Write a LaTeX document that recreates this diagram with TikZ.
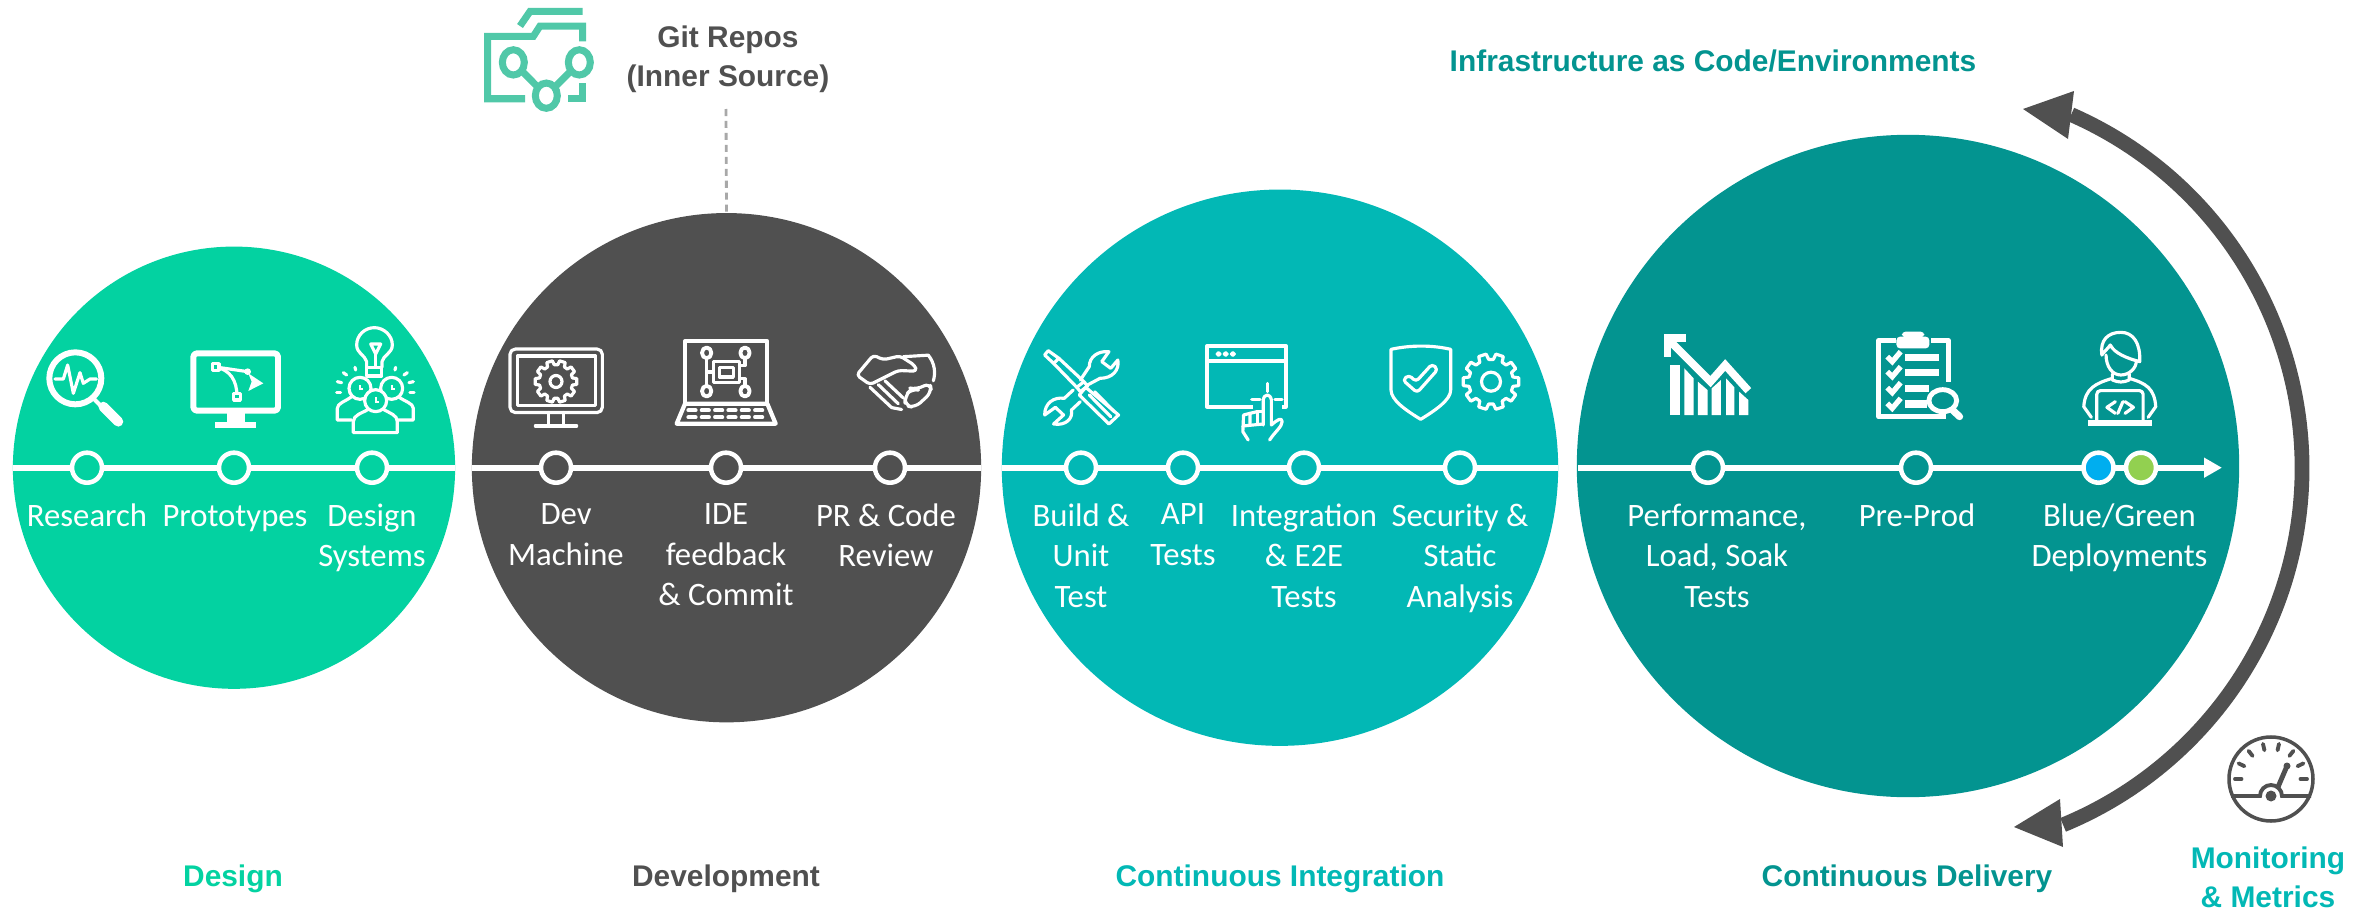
\documentclass[tikz,border=0pt]{standalone}
\usepackage{fontspec}
\setmainfont{Carlito}
\newfontfamily\titlefont{Liberation Sans}
\usetikzlibrary{arrows.meta}
\definecolor{designc}{HTML}{03D2A1}
\definecolor{devc}{HTML}{505050}
\definecolor{cic}{HTML}{02B8B5}
\definecolor{cdc}{HTML}{039490}
\definecolor{folderc}{HTML}{50C8A8}
\definecolor{bluec}{HTML}{00AEEF}
\definecolor{greenc}{HTML}{92D050}
\tikzset{
	phase/.style={circle, inner sep=0pt, outer sep=0pt},
	spine/.style={draw=white, line width=1.6pt},
	stop/.style={circle, draw=white, line width=1.3pt, inner sep=0pt, minimum size=.30cm},
	steptext/.style={text=white, align=center, anchor=north, inner sep=0pt, font=\fontsize{9.3}{11.5}\selectfont, execute at begin node=\strut},
	phasetitle/.style={font=\titlefont\bfseries\fontsize{8.5}{11}\selectfont, align=center, inner sep=0pt},
	iconline/.style={draw=white, line width=.9pt, line join=round, line cap=round},
	iconthick/.style={draw=white, line width=1.7pt, line join=round},
	foldline/.style={draw=folderc, line width=2pt},
	gaugeline/.style={draw=devc, line width=1pt},
	zonea/.style={shift={(0,280)}, scale=1/3},
	zoneb/.style={shift={(470,0)}, xscale=1/3, yscale=1/2.613},
	zonec/.style={shift={(1000,300)}, xscale=1/2.8, yscale=1/3},
	zoned/.style={shift={(1580,300)}, xscale=1/2.376, yscale=1/3}
}
\newcommand{\gearicon}[3]{%
	\begin{scope}[shift={#1}]
		\draw[iconline] (-8:#2) \foreach \a in {0,36,...,324} { -- (\a-8:#2) -- (\a+8:#2) -- (\a+12:.8*#2) -- (\a+24:.8*#2) } -- cycle;
		\draw[iconline] (0,0) circle[radius=#3];
	\end{scope}}
\begin{document}
\begin{tikzpicture}[x=.01cm, y=-.01cm, >=stealth]
	\useasboundingbox (0,0) rectangle (2377,909);
	% phases
	\node[phase, fill=designc, minimum size=4.42cm] (design) at (234,467.7) {};
	\node[phase, fill=devc, minimum size=5.09cm] (dev) at (726.5,467.7) {};
	\node[phase, fill=cic, minimum size=5.56cm] (ci) at (1280,467.7) {};
	\node[phase, fill=cdc, minimum size=6.62cm] (cd) at (1908,466) {};
	% spines
	\coordinate (cdend) at (2222,467.7);
	\coordinate (cdstart) at (1578,467.7);
	\draw[spine] (design.west) -- (design.east);
	\draw[spine] (dev.west) -- (dev.east);
	\draw[spine] (ci.west) -- (ci.east);
	\draw[spine, -{Triangle[length=.18cm, width=.19cm]}] (cdstart) -- (cdend);
	% stops
	\node[stop, fill=designc] (research) at (87,467.7) {};
	\node[stop, fill=designc] (proto) at (234,467.7) {};
	\node[stop, fill=designc] (system) at (372,467.7) {};
	\node[stop, fill=devc] (machine) at (556,467.7) {};
	\node[stop, fill=devc] (ide) at (726,467.7) {};
	\node[stop, fill=devc] (review) at (890,467.7) {};
	\node[stop, fill=cic] (unit) at (1081,467.7) {};
	\node[stop, fill=cic] (api) at (1183,467.7) {};
	\node[stop, fill=cic] (integ) at (1304,467.7) {};
	\node[stop, fill=cic] (secur) at (1460,467.7) {};
	\node[stop, fill=cdc] (perf) at (1708,467.7) {};
	\node[stop, fill=cdc] (preprod) at (1916,467.7) {};
	\node[stop, fill=bluec] (blue) at (2098.5,467.7) {};
	\node[stop, fill=greenc] (green) at (2141,467.7) {};
	% step texts
	\node[steptext] (researchtxt) at (87,497) {Research};
	\node[steptext] (prototxt) at (235,497) {Prototypes};
	\node[steptext] (systemtxt) at (372,503) {Design\\Systems};
	\node[steptext] (machinetxt) at (566,503) {Dev\\Machine};
	\node[steptext] (idetxt) at (726,503) {IDE\\feedback\\\& Commit};
	\node[steptext] (reviewtxt) at (886,503) {PR \& Code\\Review};
	\node[steptext] (unittxt) at (1081,503) {Build \&\\Unit\\Test};
	\node[steptext] (apitxt) at (1183,503) {API\\Tests};
	\node[steptext] (integtxt) at (1304,503) {Integration\\\& E2E\\Tests};
	\node[steptext] (securtxt) at (1460,503) {Security \&\\Static\\Analysis};
	\node[steptext] (perftxt) at (1717,503) {Performance,\\Load, Soak\\Tests};
	\node[steptext] (preprodtxt) at (1917,497) {Pre-Prod};
	\node[steptext] (bluetxt) at (2119.5,503) {Blue/Green\\Deployments};
	% phase titles
	\node[phasetitle, text=designc] (designtitle) at (233,879) {Design};
	\node[phasetitle, text=devc] (devtitle) at (726,879) {Development};
	\node[phasetitle, text=cic] (cititle) at (1280,879) {Continuous Integration};
	\node[phasetitle, text=cdc] (cdtitle) at (1907,879) {Continuous Delivery};
	\node[phasetitle, text=cdc] (infratitle) at (1713,61) {Infrastructure as Code/Environments};
	\node[phasetitle, text=cic] (monitortitle) at (2268,877) {Monitoring\\\& Metrics};
	\node[phasetitle, text=devc] (gittitle) at (728,59) {Git Repos\\(Inner Source)};
	% git link
	\coordinate (gitend) at (726,109);
	\draw[draw=devc!50, line width=.8pt, dash pattern=on 2pt off 1.4pt] (gitend) -- (dev.north);
	% folder icon
	\begin{scope}[zoneb]
		\draw[foldline] (150,68) -- (180,30) -- (338,30);
		\draw[foldline] (338,108) -- (338,68) -- (210,68) -- (190,95) -- (53,95) -- (53,258) -- (165,258);
		\draw[foldline] (295,258) -- (338,258) -- (338,218);
		\draw[foldline] (130,163) -- (229,250) -- (328,163);
		\draw[foldline, fill=white] (130,163) circle[radius=33];
		\draw[foldline, fill=white] (328,163) circle[radius=33];
		\draw[foldline, fill=white] (229,250) circle[radius=33];
	\end{scope}
	% flow arc
	\coordinate (flowc) at (1916,468);
	\draw[draw=devc, line width=4.2pt] (flowc) ++(-66.3:386) arc[start angle=-66.3, end angle=67.6, radius=386];
	\fill[devc] (2023,109) -- (2074,91) -- (2068,139) -- cycle;
	\fill[devc] (2014,827) -- (2060,799) -- (2063,847) -- cycle;
	% gauge icon
	\begin{scope}[shift={(2271,779)}]
		\draw[gaugeline] (0,0) circle[radius=42];
		\foreach \a in {0,1,...,7} {
			\draw[draw=devc, line width=1.1pt, line cap=round] (-\a*180/7:29.5) -- (-\a*180/7:36);
		}
		\draw[draw=devc, line width=1.1pt] (-40,17) -- (-11,17) arc[start angle=180, end angle=360, radius=11] -- (40,17);
		\fill[devc] (0,17) circle[radius=5.5];
		\draw[draw=devc, line width=1.4pt, line cap=round] (7,8) -- (16,-13);
		\fill[devc] (16,-13) circle[radius=3.5];
	\end{scope}
	% research icon
	\begin{scope}[zonea]
		\draw[iconthick] (226,295) circle[radius=78];
		\draw[iconline, line width=1.2pt] (285,360) -- (310,385);
		\draw[draw=white, line width=2.8pt, line cap=round] (310,380) -- (355,425);
		\draw[iconline] (165,297) -- (190,297) -- (203,255) -- (220,340) -- (240,278) -- (250,310) -- (270,297) -- (290,297);
		% prototype icon
		\draw[iconthick, rounded corners=1pt] (580,220) rectangle (834,392);
		\fill[white] (680,400) rectangle (735,425);
		\fill[white] (645,425) rectangle (768,443);
		\draw[iconline] (647,261) -- (743,275);
		\draw[iconline] (647,261) .. controls (690,270) and (711,300) .. (711,350);
		\draw[iconline, fill=designc] (637,251) rectangle (657,271);
		\draw[iconline, fill=designc] (701,340) rectangle (721,360);
		\fill[white] (743,275) circle[radius=10];
		\fill[white] (745,280) -- (790,310) -- (745,333) -- (755,305) -- cycle;
		% systems icon
		\draw[iconline] (1100,262) -- (1100,245) .. controls (1095,225) and (1070,220) .. (1070,195) .. controls (1070,165) and (1095,143) .. (1123,143) .. controls (1150,143) and (1177,165) .. (1177,195) .. controls (1177,220) and (1150,225) .. (1146,245) -- (1146,262);
		\draw[iconline] (1100,262) rectangle (1145,288);
		\draw[iconline] (1112,192) -- (1142,192) -- (1127,222) -- cycle;
		\draw[iconline] (1127,222) -- (1127,262);
		\foreach \u/\v/\s/\t in {1065/262/1067/270, 1030/278/1040/285, 1012/305/1025/308, 1010/338/1022/338, 1187/262/1185/270, 1222/278/1212/285, 1240/305/1227/308, 1242/338/1230/338} {
			\draw[iconline] (\u,\v) -- (\s,\t);
		}
		\draw[iconline] (1055,420) -- (1012,420) -- (1012,385) .. controls (1012,370) and (1035,365) .. (1055,350);
		\draw[iconline] (1195,420) -- (1240,420) -- (1240,385) .. controls (1240,370) and (1215,365) .. (1195,350);
		\draw[iconline, fill=designc] (1060,458) -- (1060,425) .. controls (1060,405) and (1085,400) .. (1105,388) -- (1150,388) .. controls (1170,400) and (1192,405) .. (1192,425) -- (1192,458) -- cycle;
		\foreach \u/\v in {1080/325, 1175/325, 1127/362} {
			\draw[iconline, fill=designc] (\u,\v) circle[radius=33];
			\draw[draw=white, line width=.6pt] (\u,\v-10) -- (\u,\v+3) -- (\u+10,\v+3);
		}
	\end{scope}
	% dev machine icon
	\gearicon{(556,381.5)}{21}{6}
	\begin{scope}[zoneb]
		\draw[iconline, rounded corners=1.5pt] (120,912) rectangle (397,1078);
		\draw[iconline] (142,930) rectangle (377,1060);
		\draw[iconline] (235,1078) -- (235,1113);
		\draw[iconline] (280,1078) -- (280,1113);
		\draw[iconline] (196,1113) -- (320,1113);
		% ide icon
		\draw[iconline, line width=1.2pt] (645,1055) -- (645,892) -- (892,892) -- (892,1055);
		\draw[iconline, line width=1.2pt] (645,1055) -- (620,1107) -- (917,1107) -- (892,1055) -- cycle;
		\foreach \u in {655,695,735,775,815,855} {
			\draw[draw=white, line width=1.1pt, line cap=round] (\u,1072) -- (\u+22,1072);
			\draw[draw=white, line width=1.1pt, line cap=round] (\u,1090) -- (\u+22,1090);
		}
		\draw[iconline] (730,945) rectangle (808,1000);
		\draw[iconline] (748,960) rectangle (790,985);
		\draw[iconline] (710,937) -- (710,1007);
		\draw[iconline] (710,972) -- (730,972);
		\draw[iconline] (825,937) -- (825,955) -- (808,955);
		\draw[iconline] (825,1007) -- (825,990) -- (808,990);
		\foreach \u/\v in {710/922, 825/922, 710/1022, 825/1022} {
			\draw[iconline, line width=1.1pt] (\u,\v) circle[radius=14];
		}
		% review icon
		\draw[iconline, rounded corners=1pt] (1160,980) -- (1210,928) -- (1240,940) -- (1290,930) -- (1335,955) -- (1340,970) -- (1285,968) -- (1200,1005) -- cycle;
		\draw[iconline] (1300,932) -- (1375,928) .. controls (1395,950) and (1397,975) .. (1390,995);
		\draw[iconline] (1200,1012) -- (1265,1065) -- (1295,1070);
		\draw[iconline] (1225,1005) -- (1285,1055);
		\draw[iconline] (1245,995) -- (1300,1040);
		\draw[iconline, rounded corners=2pt] (1305,1035) -- (1325,1015) -- (1340,1018) -- (1380,1000) -- (1385,1025) -- (1335,1065) -- (1305,1060) -- cycle;
	\end{scope}
	% build icon
	\begin{scope}[zonec]
		\draw[iconline] (125,165) -- (135,152) -- (165,175) -- (150,190) -- cycle;
		\draw[iconline] (165,175) -- (235,245);
		\draw[iconline] (150,190) -- (215,262);
		\draw[iconline] (240,262) -- (332,345) -- (305,372) -- (222,285) -- cycle;
		\draw[iconline] (215,262) -- (235,245) -- (245,258) -- (225,275) -- cycle;
		\draw[iconline] (250,285) -- (310,350);
		\draw[iconline] (265,275) -- (320,335);
		\draw[iconline] (225,240) -- (250,200) .. controls (250,170) and (275,152) .. (305,155) -- (285,185) -- (310,205) -- (330,180) .. controls (335,210) and (315,235) .. (280,235) -- (245,255);
		\draw[iconline] (205,270) -- (180,295) .. controls (150,290) and (125,310) .. (125,345) -- (155,322) -- (178,345) -- (150,372) .. controls (185,378) and (205,355) .. (200,330) -- (225,305);
		% api icon
		\draw[iconline, line width=1.2pt] (580,138) rectangle (800,320);
		\draw[iconline, line width=1.2pt] (580,183) -- (800,183);
		\foreach \u in {612,632,652} {
			\draw[iconline, line width=.7pt] (\u,162) circle[radius=5];
		}
		\fill[cic] (708,290) rectangle (790,330);
		\draw[iconline] (705,298) -- (728,298);
		\draw[iconline] (770,298) -- (790,298);
		\draw[iconline] (748,250) -- (748,275);
		\draw[iconline] (737,375) -- (737,300) .. controls (740,280) and (757,280) .. (760,300) -- (760,375) .. controls (775,360) and (790,350) .. (790,365) .. controls (790,380) and (770,395) .. (755,420);
		\draw[iconline] (737,335) -- (720,335) -- (720,372);
		\draw[iconline] (720,335) -- (700,340) -- (700,375);
		\draw[iconline] (700,340) -- (682,345) -- (680,395) -- (695,420);
		\draw[iconline] (680,378) -- (737,372);
		% security icon
		\draw[iconline] (1095,148) .. controls (1150,135) and (1210,135) .. (1262,148) -- (1262,270) .. controls (1262,300) and (1220,330) .. (1178,358) .. controls (1135,330) and (1095,300) .. (1095,270) -- cycle;
		\draw[iconline, rounded corners=1pt] (1128,240) -- (1145,225) -- (1165,245) -- (1210,192) -- (1226,208) -- (1168,278) -- cycle;
	\end{scope}
	\gearicon{(1491,381.7)}{28}{9.5}
	% performance icon
	\begin{scope}[zoned]
		\draw[draw=white, line width=2.2pt] (400,272) -- (345,195) -- (310,245) -- (215,125);
		\draw[draw=white, line width=2.2pt] (200,115) -- (252,115);
		\draw[draw=white, line width=2.2pt] (208,105) -- (208,170);
		\fill[white] (215,195) -- (238,195) -- (238,345) -- (215,345) -- cycle;
		\fill[white] (248,205) -- (270,235) -- (270,345) -- (248,345) -- cycle;
		\fill[white] (280,245) -- (303,270) -- (303,345) -- (280,345) -- cycle;
		\fill[white] (313,265) -- (335,240) -- (335,345) -- (313,345) -- cycle;
		\fill[white] (347,235) -- (367,262) -- (367,345) -- (347,345) -- cycle;
		\fill[white] (378,275) -- (400,300) -- (400,345) -- (378,345) -- cycle;
		% preprod icon
		\draw[iconthick, line width=1.5pt] (750,122) -- (710,122) -- (710,350) -- (870,350);
		\draw[iconthick, line width=1.5pt] (835,122) -- (875,122) -- (875,245);
		\fill[white, rounded corners=1pt] (752,110) rectangle (830,145);
		\fill[white, rounded corners=1pt] (765,95) rectangle (818,112);
		\foreach \v in {172,217,265,312} {
			\draw[draw=white, line width=1.5pt] (730,\v-2) -- (742,\v+13) -- (762,\v-17);
		}
		\draw[draw=white, line width=2pt] (772,172) -- (853,172);
		\draw[draw=white, line width=2pt] (772,217) -- (853,217);
		\draw[draw=white, line width=2pt] (772,265) -- (830,265);
		\draw[draw=white, line width=2pt] (772,312) -- (825,312);
		\draw[iconthick, line width=1.4pt, fill=cdc] (862,302) circle[radius=33];
		\draw[draw=white, line width=2pt, line cap=round] (885,330) -- (902,350);
		% deploy icon
		\draw[iconline] (1240,165) .. controls (1235,120) and (1255,97) .. (1285,97) .. controls (1315,97) and (1332,130) .. (1330,185) .. controls (1300,175) and (1270,160) .. (1260,135) .. controls (1255,145) and (1245,155) .. (1240,165) -- cycle;
		\draw[iconline] (1250,165) .. controls (1250,200) and (1265,225) .. (1285,225) .. controls (1305,225) and (1322,205) .. (1322,182);
		\draw[iconline] (1265,222) -- (1265,240) .. controls (1280,248) and (1290,248) .. (1305,240) -- (1305,222);
		\draw[iconline] (1265,235) .. controls (1225,250) and (1200,265) .. (1197,320) -- (1215,352);
		\draw[iconline] (1305,235) .. controls (1345,250) and (1365,265) .. (1368,320) -- (1350,352);
		\draw[iconline, rounded corners=1pt] (1228,365) -- (1228,272) -- (1338,272) -- (1338,365);
		\draw[iconthick, rounded corners=1pt] (1207,370) -- (1360,370);
		\draw[iconline] (1272,305) -- (1252,322) -- (1272,340);
		\draw[iconline] (1295,305) -- (1315,322) -- (1295,340);
		\draw[iconline] (1278,340) -- (1290,305);
	\end{scope}
\end{tikzpicture}
\end{document}
